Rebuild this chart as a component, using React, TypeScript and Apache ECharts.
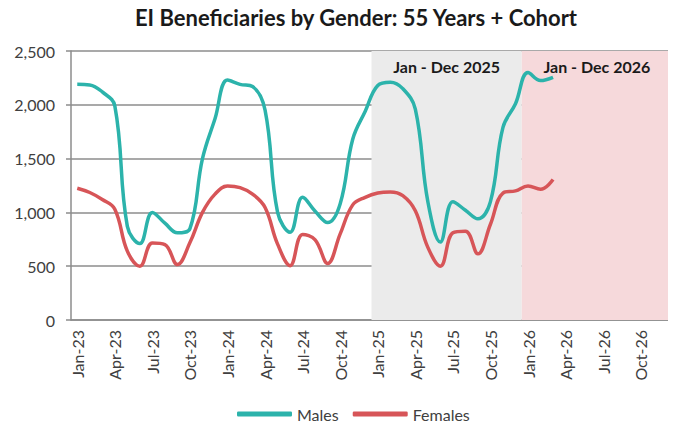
import React, { useEffect, useRef } from "react";
import * as echarts from "echarts";

const monthNames = ["Jan", "Feb", "Mar", "Apr", "May", "Jun", "Jul", "Aug", "Sep", "Oct", "Nov", "Dec"];
const years = ["23", "24", "25", "26"];
const categories: string[] = [];
years.forEach((y) => monthNames.forEach((m) => categories.push(`${m}-${y}`)));

const males = [
  2190, 2185, 2120, 1990, 870, 710, 1000, 900, 810, 850, 1500, 1870,
  2230, 2190, 2170, 1950, 1000, 815, 1140, 1010, 905, 1080, 1680, 1940,
  2180, 2210, 2150, 1960, 1100, 725, 1100, 1020, 940, 1100, 1790, 2010,
  2300, 2225, 2255,
];
const females = [
  1225, 1185, 1120, 1030, 640, 500, 715, 700, 515, 720, 1000, 1170,
  1245, 1230, 1170, 1045, 705, 505, 795, 745, 525, 800, 1070, 1140,
  1180, 1190, 1155, 1015, 675, 500, 810, 825, 615, 890, 1180, 1200,
  1245, 1215, 1305,
];
const periods = [
  { label: "Jan - Dec 2025", from: 24, to: 36, color: "#ebebeb" },
  { label: "Jan - Dec 2026", from: 36, to: 48, color: "#f6d9db" },
];
const yTicks = { min: 0, max: 2500, interval: 500 };

const FONT = "Lato, 'Open Sans', sans-serif";
const TEAL = "#2cb3ab";
const RED = "#d75558";

export default function App() {
  const ref = useRef<HTMLDivElement>(null);
  useEffect(() => {
    if (!ref.current) return;
    const chart = echarts.init(ref.current, undefined, { renderer: "svg" });
    chart.setOption({
      animation: false,
      textStyle: { fontFamily: FONT },
      graphic: [
        {
          type: "text",
          x: 356,
          y: 17,
          style: {
            text: "EI Beneficiaries by Gender: 55 Years + Cohort",
            font: `bold 22px ${FONT}`,
            fill: "#1a1a1a",
            textAlign: "center",
            textVerticalAlign: "middle",
          },
        },
      ],
      grid: { left: 71, right: 4, top: 51, bottom: 110, containLabel: false },
      legend: {
        data: [
          { name: "Males", itemStyle: { color: TEAL } },
          { name: "Females", itemStyle: { color: RED } },
        ],
        left: 232,
        top: 401,
        icon: "roundRect",
        itemWidth: 55,
        itemHeight: 5,
        itemGap: 14,
        textStyle: { fontSize: 16, color: "#404040", fontFamily: FONT },
      },
      xAxis: [
        {
          type: "category",
          data: categories,
          boundaryGap: true,
          axisLine: { lineStyle: { color: "#8c8c8c", width: 1.5 } },
          axisTick: { interval: 2, length: 5, lineStyle: { color: "#8c8c8c", width: 1.5 } },
          axisLabel: {
            interval: 2,
            rotate: 90,
            fontSize: 16,
            color: "#404040",
            margin: 10,
            fontFamily: FONT,
          },
          splitLine: { show: false },
        },
        {
          type: "value",
          min: 0,
          max: 48,
          show: false,
        },
      ],
      yAxis: {
        type: "value",
        min: yTicks.min,
        max: yTicks.max,
        interval: yTicks.interval,
        axisLine: { show: true, lineStyle: { color: "#8c8c8c", width: 1.5 } },
        axisTick: { show: true, length: 5, lineStyle: { color: "#8c8c8c", width: 1.5 } },
        axisLabel: {
          fontSize: 16,
          color: "#404040",
          margin: 16,
          fontFamily: FONT,
          formatter: (v: number) => v.toLocaleString("en-US"),
        },
        splitLine: { lineStyle: { color: "#8c8c8c", width: 1.5 } },
      },
      series: [
        {
          name: "periods",
          type: "line",
          xAxisIndex: 1,
          data: [],
          z: -1,
          silent: true,
          markArea: {
            silent: true,
            data: periods.map((p) => [
              {
                xAxis: p.from,
                itemStyle: { color: p.color },
                label: {
                  show: true,
                  position: "insideTop",
                  distance: 7,
                  formatter: p.label,
                  fontSize: 16,
                  fontWeight: "bold",
                  color: "#1a1a1a",
                  fontFamily: FONT,
                },
              },
              { xAxis: p.to },
            ]),
          },
        },
        {
          name: "Males",
          type: "line",
          data: males,
          smooth: 0.4,
          symbol: "none",
          lineStyle: { width: 3.5, color: TEAL },
          itemStyle: { color: TEAL },
        },
        {
          name: "Females",
          type: "line",
          data: females,
          smooth: 0.4,
          symbol: "none",
          lineStyle: { width: 3.5, color: RED },
          itemStyle: { color: RED },
        },
      ],
    });
    return () => chart.dispose();
  }, []);
  return <div ref={ref} style={{ width: 676, height: 430, margin: -8 }} />;
}
